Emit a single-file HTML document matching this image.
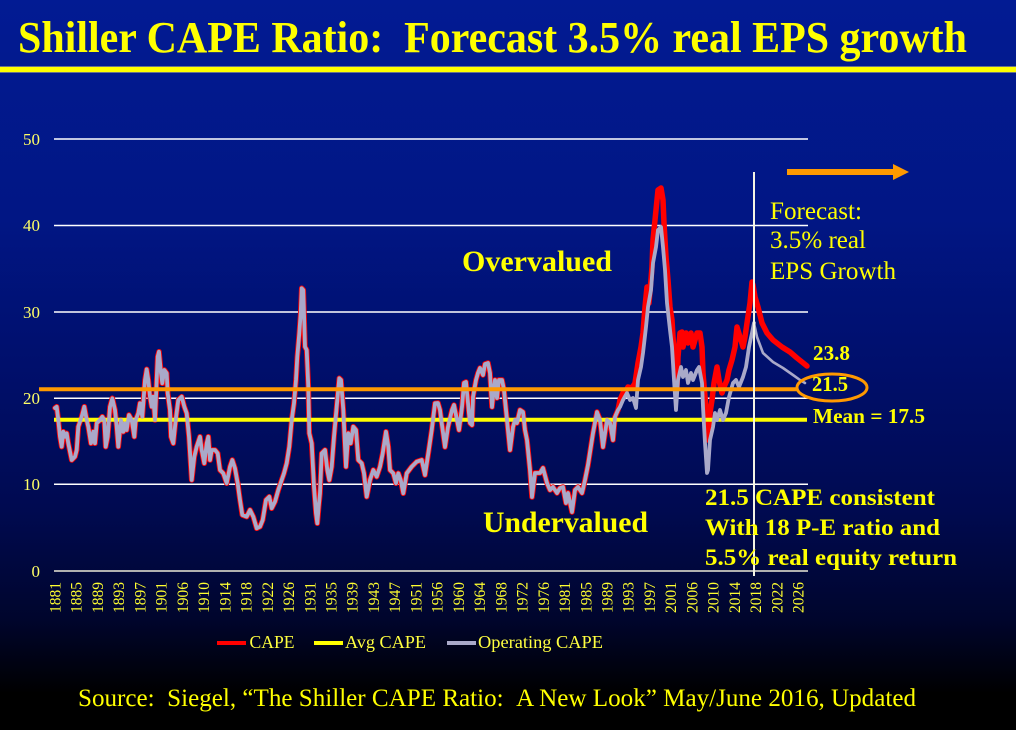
<!DOCTYPE html>
<html>
<head>
<meta charset="utf-8">
<style>
  html, body { margin: 0; padding: 0; width: 1016px; height: 730px; overflow: hidden; background: #000; }
  svg { display: block; }
  text { font-family: "Liberation Serif", "Times New Roman", serif; }
</style>
</head>
<body>
<svg width="1016" height="730" viewBox="0 0 1016 730" xmlns="http://www.w3.org/2000/svg">
  <defs>
    <linearGradient id="bg" x1="0" y1="0" x2="0" y2="730" gradientUnits="userSpaceOnUse">
      <stop offset="0" stop-color="#021b93"/>
      <stop offset="0.30" stop-color="#011684"/>
      <stop offset="0.50" stop-color="#000f6c"/>
      <stop offset="0.70" stop-color="#000a50"/>
      <stop offset="0.85" stop-color="#00052c"/>
      <stop offset="0.95" stop-color="#000000"/>
      <stop offset="1" stop-color="#000000"/>
    </linearGradient>
  </defs>
  <rect x="0" y="0" width="1016" height="730" fill="url(#bg)"/>

  <!-- Title -->
  <text x="18" y="52" font-size="44" font-weight="bold" fill="#ffff00" textLength="949" lengthAdjust="spacingAndGlyphs">Shiller CAPE Ratio:&#160;&#160;Forecast 3.5% real EPS growth</text>
  <rect x="0" y="67" width="1016" height="5" fill="#ffff00"/>
  <rect x="0" y="66" width="1016" height="1" fill="#b0b080" opacity="0.6"/>
  <rect x="0" y="72" width="1016" height="1" fill="#b0b080" opacity="0.6"/>

  <!-- Gridlines -->
  <g stroke="#ffffff" stroke-width="1.5">
    <line x1="54" y1="139" x2="808" y2="139"/>
    <line x1="54" y1="225.5" x2="808" y2="225.5"/>
    <line x1="54" y1="312" x2="808" y2="312"/>
    <line x1="54" y1="398.3" x2="808" y2="398.3"/>
    <line x1="54" y1="484.3" x2="808" y2="484.3"/>
  </g>
  <line x1="54" y1="571" x2="808" y2="571" stroke="#b0b0b0" stroke-width="2"/>

  <!-- Y labels -->
  <g font-size="17" fill="#ffff66" text-anchor="end">
    <text x="40" y="145">50</text>
    <text x="40" y="231">40</text>
    <text x="40" y="318">30</text>
    <text x="40" y="404">20</text>
    <text x="40" y="490">10</text>
    <text x="40" y="577">0</text>
  </g>

  <!-- CAPE (red) -->
  <polyline fill="none" stroke="#ff0000" stroke-width="5.5" stroke-linejoin="round" stroke-linecap="round" points="
55,408 56.7,406.7 58.3,420 60,436.7 61.7,446.7 63.3,431.7 65,436.7 66.7,433.3 68.3,443.3 71.7,460 75,456.7 76.7,450 78.3,426.7 81.7,416.7 84.3,406.7 86.7,420 88.3,426.7 91,443.3 93.3,431.7 95,443.3 96.7,423.3 100,420 102.3,416.7 104.3,420 105.7,446.7 107.7,436.7 110,406.7 112.3,398.3 115,410 116.7,426.7 118.3,446.7 121,420 123.3,431.7 125,423.3 126.7,430 129,415 131.7,420 134.3,436.7 135.7,420 138.3,413.3 140,403.3 142.3,416.7 145,380 146.7,369.3 148.3,380 150,396.7 151.7,406.7 153.3,396.7 155,420 157.7,356.7 159,351.7 161,373.3 162.3,383.3 164.3,370 166.7,373.3 167.7,393.3 170,410 171,436.7 173.3,443.3 175.7,420 178.3,400 181.7,396.7 184.3,406.7 186.7,413.3 189,436.7 191.7,480 194.3,456.7 196.7,446.7 200,436.7 201.7,450 204.3,463.3 206.7,443.3 208.3,436.7 210,460 211.7,450 215,450 217.7,453.3 220,470 223.3,473.3 226.7,483.3 230,466.7 232.3,460 235,468.3 237.7,483.3 240,500 242.3,515 246.7,516.7 250,510 253.3,516.7 256.7,528.3 260,526.7 262.7,520 266,500 269.3,496.7 271.7,508.3 275,501.7 278.3,490 281.7,480 284,473.3 286.7,463.3 289.3,446.7 291.7,420 294,403.3 296,380 297.3,356.7 299.3,333.3 300.7,313.3 301.7,288.3 303.3,290 305,346.7 306.7,350 308.3,386.7 309.3,433.3 311.7,443.3 314,486.7 316,513.3 317.3,523.3 318.7,506.7 320,493.3 321.7,453.3 325,450 327.3,470 329.3,480 331.7,466.7 334,436.7 336.7,406.7 339.3,378.3 341,380 343.3,410 346,466.7 348.3,433.3 350.7,443.3 353.3,426.7 356,430 358.3,460 361.7,463.3 364,473.3 366.7,496.7 370,480 373.3,470 376.7,476.7 380,466.7 382.7,453.3 386,431.7 388.3,446.7 390,470 393.3,473.3 396,483.3 398.3,473.3 400.7,480 403.3,493.3 406.7,473.3 411.7,466.7 416.7,461.7 421.7,460 425,475 428.3,453.3 431.7,430 435,403.3 438,403 440,410 441.7,423 445,447 448,427 452,410 454,405 457,420 459,430 462,407 464,383 466,382 468,403 470,423 472,425 473,397 476,380 478,373 480,368 483,375 485,364 488,363 490,373 492,407 493,397 495,380 497,398 499,380 502,380 504,390 507,420 510,450 513,427 515,420 517,423 520,410 523,412 525,430 527,440 529,460 530,470 532,497 535,473 540,473 543,468 547,483 550,490 553,487 557,493 560,488 563,487 566,503 568,493 572,512 575,490 578,487 582,493 585,480 588,465 593,433 597,412 600,420 603,447 607,420 610,423 613,440 615,417 618,410
620,400 623,393 625,393 628,387 632,388 635,383 638,363 641,347 643,333 645,307 647,287 649,303 652,267 653,240 655,220 657,200 658,190 661,188 663,200 664,223 666,257 668,280 670,307 672,320 673,337 675,363 677,387 678,357 680,333 682,332 683,347 686,333 688,343 691,333 693,347 695,340 697,333 700,333 702,347 703,373 705,397 707,417 708,440 710,413 712,400 714,383 717,367 719,380 722,393 724,387 727,380 729,370 732,360 735,347 737,327 740,337 743,347 745,337 747,323 750,303 752,282 753,285 755,297 758,307 762,323 767,333 773,340 782,347 790,352 797,358 807,366"/>

  <!-- Avg CAPE (mean) -->
  <line x1="54" y1="419.7" x2="807" y2="419.7" stroke="#ffff00" stroke-width="4"/>

  <!-- Operating CAPE (gray) -->
  <polyline fill="none" stroke="#a9a9c9" stroke-width="3.8" stroke-linejoin="round" stroke-linecap="round" points="
55,408 56.7,406.7 58.3,420 60,436.7 61.7,446.7 63.3,431.7 65,436.7 66.7,433.3 68.3,443.3 71.7,460 75,456.7 76.7,450 78.3,426.7 81.7,416.7 84.3,406.7 86.7,420 88.3,426.7 91,443.3 93.3,431.7 95,443.3 96.7,423.3 100,420 102.3,416.7 104.3,420 105.7,446.7 107.7,436.7 110,406.7 112.3,398.3 115,410 116.7,426.7 118.3,446.7 121,420 123.3,431.7 125,423.3 126.7,430 129,415 131.7,420 134.3,436.7 135.7,420 138.3,413.3 140,403.3 142.3,416.7 145,380 146.7,369.3 148.3,380 150,396.7 151.7,406.7 153.3,396.7 155,420 157.7,356.7 159,351.7 161,373.3 162.3,383.3 164.3,370 166.7,373.3 167.7,393.3 170,410 171,436.7 173.3,443.3 175.7,420 178.3,400 181.7,396.7 184.3,406.7 186.7,413.3 189,436.7 191.7,480 194.3,456.7 196.7,446.7 200,436.7 201.7,450 204.3,463.3 206.7,443.3 208.3,436.7 210,460 211.7,450 215,450 217.7,453.3 220,470 223.3,473.3 226.7,483.3 230,466.7 232.3,460 235,468.3 237.7,483.3 240,500 242.3,515 246.7,516.7 250,510 253.3,516.7 256.7,528.3 260,526.7 262.7,520 266,500 269.3,496.7 271.7,508.3 275,501.7 278.3,490 281.7,480 284,473.3 286.7,463.3 289.3,446.7 291.7,420 294,403.3 296,380 297.3,356.7 299.3,333.3 300.7,313.3 301.7,288.3 303.3,290 305,346.7 306.7,350 308.3,386.7 309.3,433.3 311.7,443.3 314,486.7 316,513.3 317.3,523.3 318.7,506.7 320,493.3 321.7,453.3 325,450 327.3,470 329.3,480 331.7,466.7 334,436.7 336.7,406.7 339.3,378.3 341,380 343.3,410 346,466.7 348.3,433.3 350.7,443.3 353.3,426.7 356,430 358.3,460 361.7,463.3 364,473.3 366.7,496.7 370,480 373.3,470 376.7,476.7 380,466.7 382.7,453.3 386,431.7 388.3,446.7 390,470 393.3,473.3 396,483.3 398.3,473.3 400.7,480 403.3,493.3 406.7,473.3 411.7,466.7 416.7,461.7 421.7,460 425,475 428.3,453.3 431.7,430 435,403.3 438,403 440,410 441.7,423 445,447 448,427 452,410 454,405 457,420 459,430 462,407 464,383 466,382 468,403 470,423 472,425 473,397 476,380 478,373 480,368 483,375 485,364 488,363 490,373 492,407 493,397 495,380 497,398 499,380 502,380 504,390 507,420 510,450 513,427 515,420 517,423 520,410 523,412 525,430 527,440 529,460 530,470 532,497 535,473 540,473 543,468 547,483 550,490 553,487 557,493 560,488 563,487 566,503 568,493 572,512 575,490 578,487 582,493 585,480 588,465 593,433 597,412 600,420 603,447 607,420 610,423 613,440 615,417 618,410
620,407 623,400 627,393 630,400 633,398 636,408 638,380 641,367 643,353 646,327 648,307 651,290 653,263 656,247 658,230 661,227 663,247 665,270 667,303 670,330 672,347 674,380 676,410 678,380 681,367 683,377 686,370 688,383 691,373 693,380 697,370 699,367 702,383 703,407 705,443 707,473 708,470 710,440 713,427 715,413 717,420 720,410 723,420 726,413 729,397 733,383 736,380 739,387 743,377 746,367 749,347 752,333 754,323"/>
  <polyline fill="none" stroke="#a9a9c9" stroke-width="2.6" stroke-linejoin="round" stroke-linecap="round" points="754,323 757,337 763,353 773,362 783,368 793,375 800,380 805,383"/>

  <!-- Orange 21.5 line -->
  <line x1="39" y1="389.3" x2="797" y2="389.3" stroke="#ff9900" stroke-width="4"/>
  <ellipse cx="832" cy="387.5" rx="35" ry="13.5" fill="none" stroke="#ff9900" stroke-width="3"/>

  <!-- Vertical forecast line -->
  <line x1="754" y1="172" x2="754" y2="576" stroke="#f4f4e4" stroke-width="2"/>

  <!-- Orange arrow -->
  <line x1="787" y1="172" x2="895" y2="172" stroke="#ff9900" stroke-width="6"/>
  <polygon points="893,164 909,172 893,180" fill="#ff9900"/>

  <!-- X labels -->
  <g font-size="15.5" fill="#ffff30" text-anchor="end">
    <text transform="translate(60.5,582) rotate(-90)">1881</text>
    <text transform="translate(81.7,582) rotate(-90)">1885</text>
    <text transform="translate(103,582) rotate(-90)">1889</text>
    <text transform="translate(124.2,582) rotate(-90)">1893</text>
    <text transform="translate(145.4,582) rotate(-90)">1897</text>
    <text transform="translate(166.7,582) rotate(-90)">1901</text>
    <text transform="translate(187.9,582) rotate(-90)">1906</text>
    <text transform="translate(209.1,582) rotate(-90)">1910</text>
    <text transform="translate(230.4,582) rotate(-90)">1914</text>
    <text transform="translate(251.6,582) rotate(-90)">1918</text>
    <text transform="translate(272.8,582) rotate(-90)">1922</text>
    <text transform="translate(294,582) rotate(-90)">1926</text>
    <text transform="translate(315.3,582) rotate(-90)">1931</text>
    <text transform="translate(336.5,582) rotate(-90)">1935</text>
    <text transform="translate(357.7,582) rotate(-90)">1939</text>
    <text transform="translate(379,582) rotate(-90)">1943</text>
    <text transform="translate(400.2,582) rotate(-90)">1947</text>
    <text transform="translate(421.4,582) rotate(-90)">1951</text>
    <text transform="translate(442.6,582) rotate(-90)">1956</text>
    <text transform="translate(463.9,582) rotate(-90)">1960</text>
    <text transform="translate(485.1,582) rotate(-90)">1964</text>
    <text transform="translate(506.3,582) rotate(-90)">1968</text>
    <text transform="translate(527.6,582) rotate(-90)">1972</text>
    <text transform="translate(548.8,582) rotate(-90)">1976</text>
    <text transform="translate(570,582) rotate(-90)">1981</text>
    <text transform="translate(591.3,582) rotate(-90)">1985</text>
    <text transform="translate(612.5,582) rotate(-90)">1989</text>
    <text transform="translate(633.7,582) rotate(-90)">1993</text>
    <text transform="translate(654.9,582) rotate(-90)">1997</text>
    <text transform="translate(676.2,582) rotate(-90)">2001</text>
    <text transform="translate(697.4,582) rotate(-90)">2006</text>
    <text transform="translate(718.6,582) rotate(-90)">2010</text>
    <text transform="translate(739.9,582) rotate(-90)">2014</text>
    <text transform="translate(761.1,582) rotate(-90)">2018</text>
    <text transform="translate(782.3,582) rotate(-90)">2022</text>
    <text transform="translate(803.5,582) rotate(-90)">2026</text>
  </g>

  <!-- Legend -->
  <line x1="217" y1="643" x2="246" y2="643" stroke="#ff0000" stroke-width="4"/>
  <line x1="314" y1="643" x2="343" y2="643" stroke="#ffff00" stroke-width="4"/>
  <line x1="447" y1="643" x2="476" y2="643" stroke="#a9a9c9" stroke-width="4"/>
  <g font-size="17.5" fill="#ffff40">
    <text x="249.5" y="648" textLength="45" lengthAdjust="spacingAndGlyphs">CAPE</text>
    <text x="345" y="648" textLength="81" lengthAdjust="spacingAndGlyphs">Avg CAPE</text>
    <text x="478" y="648" textLength="125" lengthAdjust="spacingAndGlyphs">Operating CAPE</text>
  </g>

  <!-- Annotations -->
  <text x="462" y="271" font-size="30" font-weight="bold" fill="#ffff00" textLength="150" lengthAdjust="spacingAndGlyphs">Overvalued</text>
  <text x="483" y="532" font-size="30" font-weight="bold" fill="#ffff00" textLength="165" lengthAdjust="spacingAndGlyphs">Undervalued</text>

  <g font-size="25" fill="#ffff00">
    <text x="770" y="219" textLength="92" lengthAdjust="spacingAndGlyphs">Forecast:</text>
    <text x="770" y="248" textLength="96" lengthAdjust="spacingAndGlyphs">3.5% real</text>
    <text x="770" y="279" textLength="126" lengthAdjust="spacingAndGlyphs">EPS Growth</text>
  </g>

  <g font-size="21" font-weight="bold" fill="#ffff00">
    <text x="813" y="360" textLength="37" lengthAdjust="spacingAndGlyphs">23.8</text>
    <text x="812" y="391" textLength="36" lengthAdjust="spacingAndGlyphs">21.5</text>
    <text x="813" y="423" textLength="112" lengthAdjust="spacingAndGlyphs">Mean = 17.5</text>
  </g>

  <g font-size="23" font-weight="bold" fill="#ffff00">
    <text x="705" y="505" textLength="230" lengthAdjust="spacingAndGlyphs">21.5 CAPE consistent</text>
    <text x="705" y="535" textLength="235" lengthAdjust="spacingAndGlyphs">With 18 P-E ratio and</text>
    <text x="705" y="565" textLength="252" lengthAdjust="spacingAndGlyphs">5.5% real equity return</text>
  </g>

  <!-- Source -->
  <text x="78" y="706" font-size="25" fill="#ffff00" textLength="838" lengthAdjust="spacingAndGlyphs">Source:&#160;&#160;Siegel, “The Shiller CAPE Ratio:&#160;&#160;A New Look” May/June 2016, Updated</text>
</svg>
</body>
</html>
